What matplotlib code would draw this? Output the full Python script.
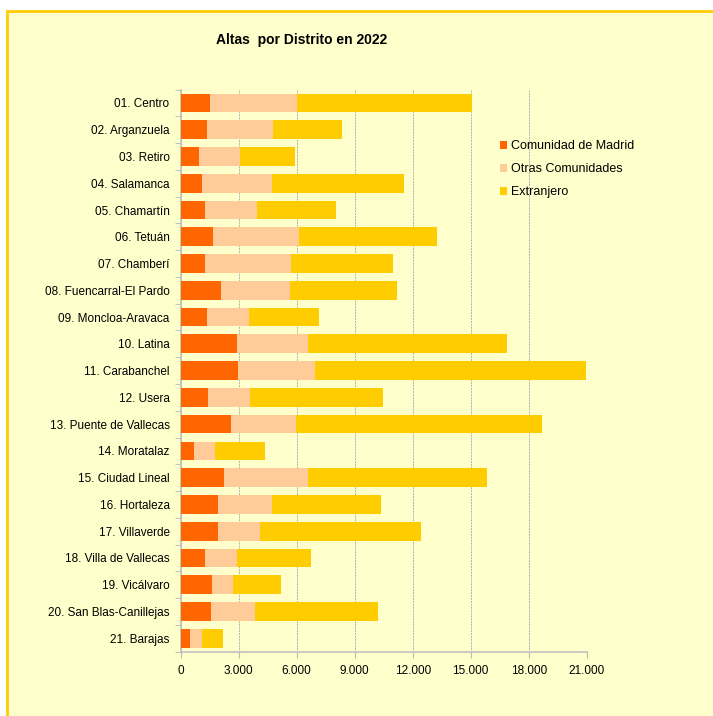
import matplotlib.pyplot as plt
from matplotlib.patches import Rectangle
from matplotlib.ticker import FuncFormatter, MultipleLocator
import numpy as np

plt.rcParams['font.family'] = ['Liberation Sans', 'DejaVu Sans']

distritos = ['01. Centro', '02. Arganzuela', '03. Retiro', '04. Salamanca', '05. Chamartín',
             '06. Tetuán', '07. Chamberí', '08. Fuencarral-El Pardo', '09. Moncloa-Aravaca',
             '10. Latina', '11. Carabanchel', '12. Usera', '13. Puente de Vallecas',
             '14. Moratalaz', '15. Ciudad Lineal', '16. Hortaleza', '17. Villaverde',
             '18. Villa de Vallecas', '19. Vicálvaro', '20. San Blas-Canillejas', '21. Barajas']
madrid = [1520, 1360, 950, 1100, 1260, 1670, 1260, 2090, 1360, 2910, 2970,
          1410, 2600, 710, 2240, 1910, 1950, 1280, 1640, 1550, 480]
otras = [4480, 3420, 2100, 3610, 2690, 4430, 4450, 3570, 2190, 3680, 3980,
         2160, 3370, 1070, 4350, 2830, 2140, 1650, 1070, 2280, 640]
extranjero = [9050, 3560, 2860, 6860, 4080, 7140, 5270, 5550, 3610, 10310, 14020,
              6880, 12740, 2560, 9250, 5640, 8360, 3790, 2460, 6380, 1050]

W, H = 713, 716
fig = plt.figure(figsize=(W / 100, H / 100), dpi=100)
fig.patch.set_facecolor('white')
# chart area with yellow border
fig.patches.append(Rectangle((7 / W, -0.01), 1.02, 1 - 11 / H + 0.01, transform=fig.transFigure,
                             facecolor='#FFFFCC', edgecolor='#FFCC00', linewidth=2, zorder=-10))

ax = fig.add_axes([180.7 / W, 1 - 651.6 / H, (586.7 - 180.7) / W, (651.6 - 89.6) / H])
ax.set_facecolor('none')

y = np.arange(len(distritos))
m = np.array(madrid)
o = np.array(otras)
e = np.array(extranjero)
ax.barh(y, m, height=0.7, color='#FF6600', label='Comunidad de Madrid', zorder=3)
ax.barh(y, o, left=m, height=0.7, color='#FFCC99', label='Otras Comunidades', zorder=3)
ax.barh(y, e, left=m + o, height=0.7, color='#FFCC00', label='Extranjero', zorder=3)

ax.set_ylim(len(distritos) - 0.5, -0.5)
ax.set_xlim(0, 21000)
ax.set_yticks(y)
ax.set_yticklabels(distritos, fontsize=8.5)
ax.set_yticks(np.arange(len(distritos) + 1) - 0.5, minor=True)
ax.tick_params(axis='y', which='major', length=0, pad=8)
ax.tick_params(axis='y', which='minor', length=4, color='#B8B8B8')
ax.xaxis.set_major_locator(MultipleLocator(3000))
ax.xaxis.set_major_formatter(FuncFormatter(lambda v, p: f'{int(v):,}'.replace(',', '.')))
ax.tick_params(axis='x', labelsize=8.5, length=4, color='#B8B8B8', pad=6)
ax.grid(axis='x', color='#B0B0B0', linewidth=0.7, linestyle=(0, (2, 1)), zorder=0)
for s in ['top', 'right']:
    ax.spines[s].set_visible(False)
for s in ['left', 'bottom']:
    ax.spines[s].set_color('#C0C0C0')
    ax.spines[s].set_linewidth(1.2)

leg = ax.legend(loc='upper left', bbox_to_anchor=((495 - 180.7) / (586.7 - 180.7), 1 - (135 - 89.6) / (651.6 - 89.6)),
                frameon=False, fontsize=9, handlelength=0.6, handleheight=0.6, handletextpad=0.3,
                labelspacing=0.9, borderaxespad=0)

fig.text(302 / W, 1 - 40 / H, 'Altas  por Distrito en 2022', ha='center', va='center',
         fontsize=10, fontweight='bold')

fig.savefig('out.png', dpi=100)
